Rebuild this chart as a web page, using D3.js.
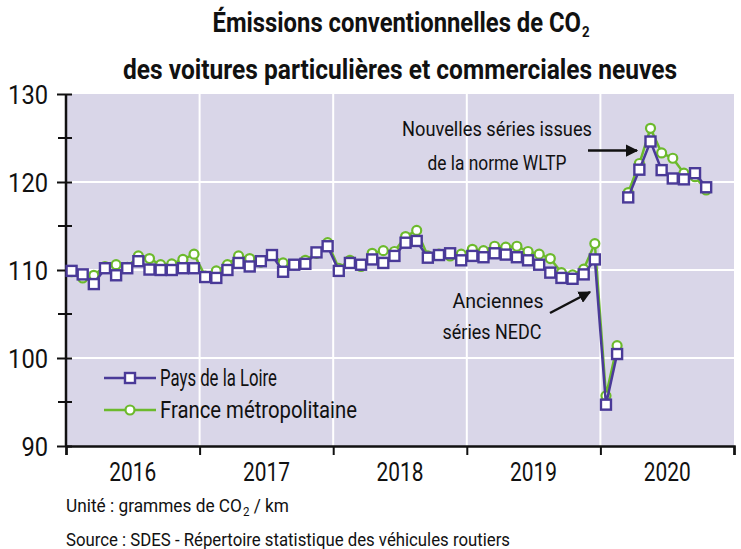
<!DOCTYPE html>
<html>
<head>
<meta charset="utf-8">
<script src="https://cdn.jsdelivr.net/npm/d3@7"></script>
<style>
  body { margin: 0; background: #fff; }
  text { font-family: Roboto, "Liberation Sans", sans-serif; fill: #111; }
</style>
</head>
<body>
<svg width="741" height="549"></svg>
<script>
// years on the x axis
let years = ['2016', '2017', '2018', '2019', '2020'];
// monthly values, jan 2016 -> oct 2020
let paysDeLaLoire = [
  109.9, 109.5, 108.4, 110.2, 109.4, 110.2, 111.0, 110.05, 110.0, 110.0, 110.2, 110.2,
  109.2, 109.1, 110.0, 110.8, 110.4, 111.0, 111.7, 109.8, 110.6, 110.7, 112.0, 112.7,
  109.9, 110.8, 110.6, 111.2, 110.8, 111.6, 113.1, 113.3, 111.4, 111.7, 111.9, 111.1,
  111.6, 111.45, 111.9, 111.75, 111.45, 111.1, 110.6, 109.7, 109.1, 109.0, 109.5, 111.2,
  94.7, 100.45, 118.25, 121.4, 124.6, 121.35, 120.4, 120.3, 121.0, 119.4
];
let franceMetro = [
  109.8, 109.1, 109.4, 110.4, 110.6, 110.3, 111.6, 111.3, 110.6, 110.7, 111.2, 111.8,
  109.3, 109.9, 110.6, 111.6, 111.3, 110.9, 111.7, 110.8, 110.6, 111.1, 111.9, 113.1,
  110.2, 111.1, 110.4, 111.9, 112.2, 112.1, 113.8, 114.5, 111.6, 111.8, 111.6, 111.8,
  112.35, 112.2, 112.7, 112.6, 112.7, 112.1, 111.8, 111.3, 109.7, 109.45, 110.1, 113.0,
  95.7, 101.4, 118.8, 122.1, 126.1, 123.3, 122.7, 121.0, 120.6, 119.1
];
// first month of the new WLTP series (march 2020)
let wltpStart = 50;
let yTicks = [90, 100, 110, 120, 130];
let yMinorTicks = [95, 105, 115, 125];

let purple = '#4a3a98';
let green = '#6cba2c';

let margin = { top: 94, right: 7, bottom: 103, left: 66 };
let width = 741 - margin.left - margin.right;
let height = 549 - margin.top - margin.bottom;

let svg = d3.select('svg');
let g = svg.append('g')
           .attr('transform', 'translate(' + margin.left + ',' + margin.top + ')');

// the source font is a narrow one: squeeze text to its measured width
let squeeze = (sel, w) => sel.attr('textLength', w).attr('lengthAdjust', 'spacingAndGlyphs');

// scales: x in months from jan 2016
let xScale = d3.scaleLinear()
               .domain([0, years.length * 12])
               .range([0, width]);
let yScale = d3.scaleLinear()
               .domain([90, 130])
               .range([height, 0]);

// plot background
g.append('rect')
  .attr('width', width)
  .attr('height', height)
  .attr('fill', '#d9d6e8');

// white grid
g.selectAll('.hgrid')
  .data(yTicks.slice(1, -1))
  .enter()
  .append('line')
  .attr('x1', 0).attr('x2', width)
  .attr('y1', d => yScale(d)).attr('y2', d => yScale(d))
  .attr('stroke', '#fff').attr('stroke-width', 2);

g.selectAll('.vgrid')
  .data(d3.range(1, years.length))
  .enter()
  .append('line')
  .attr('x1', d => xScale(d * 12)).attr('x2', d => xScale(d * 12))
  .attr('y1', 0).attr('y2', height)
  .attr('stroke', '#fff').attr('stroke-width', 2);

// y axis
let yAxis = d3.axisLeft(yScale)
              .tickValues(yTicks)
              .tickSize(9)
              .tickFormat(d3.format('d'));
let yAxisG = g.append('g').call(yAxis);
yAxisG.select('.domain').remove();
yAxisG.selectAll('.tick line').attr('x2', -9).attr('x1', 6).attr('stroke', '#111').attr('stroke-width', 2);
yAxisG.selectAll('.tick text')
  .style('font-size', '26px')
  .attr('fill', '#111')
  .attr('dy', '0.36em')
  .attr('x', -18)
  .attr('textLength', d => String(d).length * 13.3)
  .attr('lengthAdjust', 'spacingAndGlyphs');

g.selectAll('.minor')
  .data(yMinorTicks)
  .enter()
  .append('line')
  .attr('x1', -8).attr('x2', 6)
  .attr('y1', d => yScale(d)).attr('y2', d => yScale(d))
  .attr('stroke', '#111').attr('stroke-width', 2);

g.append('line')
  .attr('x1', 0).attr('x2', 0).attr('y1', 0).attr('y2', height)
  .attr('stroke', '#111').attr('stroke-width', 2.5);

// x axis
let xAxis = d3.axisBottom(xScale)
              .tickValues(d3.range(0, years.length * 12 + 1, 12))
              .tickSize(9)
              .tickFormat('');
let xAxisG = g.append('g')
              .attr('transform', 'translate(0,' + height + ')')
              .call(xAxis);
xAxisG.select('.domain').attr('stroke', '#111').attr('stroke-width', 2.5);
xAxisG.selectAll('.tick line').attr('stroke', '#111').attr('stroke-width', 2);

g.selectAll('.year')
  .data(years)
  .enter()
  .append('text')
  .attr('x', (d, i) => xScale(i * 12 + 6))
  .attr('y', height + 35)
  .attr('text-anchor', 'middle')
  .style('font-size', '26px')
  .attr('textLength', 47)
  .attr('lengthAdjust', 'spacingAndGlyphs')
  .text(d => d);

// lines, split where the series changes
let line = d3.line()
             .x(d => xScale(d.i + 0.5))
             .y(d => yScale(d.v));

let drawSeries = (values, color, marker) => {
  let pts = values.map((v, i) => ({ i: i, v: v }));
  [pts.slice(0, wltpStart), pts.slice(wltpStart)].forEach(seg => {
    g.append('path')
      .datum(seg)
      .attr('d', line)
      .attr('fill', 'none')
      .attr('stroke', color)
      .attr('stroke-width', 2.5);
  });
  let marks = g.append('g');
  if (marker == 'circle') {
    marks.selectAll('circle')
      .data(pts)
      .enter()
      .append('circle')
      .attr('cx', d => xScale(d.i + 0.5))
      .attr('cy', d => yScale(d.v))
      .attr('r', 4.5)
      .attr('fill', '#fff')
      .attr('stroke', color)
      .attr('stroke-width', 2.2);
  } else {
    marks.selectAll('rect')
      .data(pts)
      .enter()
      .append('rect')
      .attr('x', d => xScale(d.i + 0.5) - 5)
      .attr('y', d => yScale(d.v) - 5)
      .attr('width', 10)
      .attr('height', 10)
      .attr('fill', '#fff')
      .attr('stroke', color)
      .attr('stroke-width', 2.4);
  }
};

drawSeries(franceMetro, green, 'circle');
drawSeries(paysDeLaLoire, purple, 'square');

// legend
let legend = svg.append('g');
let legendItems = [
  { name: 'Pays de la Loire', color: purple, marker: 'square', y: 378, w: 117 },
  { name: 'France métropolitaine', color: green, marker: 'circle', y: 410, w: 197 }
];
legendItems.forEach(d => {
  legend.append('line')
    .attr('x1', 104).attr('x2', 156)
    .attr('y1', d.y).attr('y2', d.y)
    .attr('stroke', d.color).attr('stroke-width', 2.5);
  if (d.marker == 'square') {
    legend.append('rect')
      .attr('x', 125).attr('y', d.y - 5)
      .attr('width', 10).attr('height', 10)
      .attr('fill', '#fff').attr('stroke', d.color).attr('stroke-width', 2.4);
  } else {
    legend.append('circle')
      .attr('cx', 130).attr('cy', d.y).attr('r', 4.5)
      .attr('fill', '#fff').attr('stroke', d.color).attr('stroke-width', 2.2);
  }
  legend.append('text')
    .attr('x', 160).attr('y', d.y + 8)
    .style('font-size', '24px')
    .call(squeeze, d.w)
    .text(d.name);
});

// annotations
let annot = svg.append('g').style('font-size', '21px');
annot.append('text').attr('x', 497).attr('y', 136).attr('text-anchor', 'middle').call(squeeze, 190).text('Nouvelles séries issues');
annot.append('text').attr('x', 497).attr('y', 170).attr('text-anchor', 'middle').call(squeeze, 139).text('de la norme WLTP');
annot.append('text').attr('x', 498).attr('y', 308).attr('text-anchor', 'middle').call(squeeze, 91).text('Anciennes');
annot.append('text').attr('x', 492).attr('y', 339).attr('text-anchor', 'middle').call(squeeze, 99).text('séries NEDC');

svg.append('defs').append('marker')
  .attr('id', 'arrow')
  .attr('viewBox', '0 0 10 10')
  .attr('refX', 9).attr('refY', 5)
  .attr('markerWidth', 5).attr('markerHeight', 5)
  .attr('orient', 'auto')
  .append('path')
  .attr('d', 'M0,0 L10,5 L0,10 z')
  .attr('fill', '#111');

svg.append('line')
  .attr('x1', 588).attr('y1', 150.5).attr('x2', 637).attr('y2', 150.5)
  .attr('stroke', '#111').attr('stroke-width', 2.5)
  .attr('marker-end', 'url(#arrow)');
svg.append('line')
  .attr('x1', 550).attr('y1', 313).attr('x2', 590).attr('y2', 292)
  .attr('stroke', '#111').attr('stroke-width', 2.5)
  .attr('marker-end', 'url(#arrow)');

// title
let title = svg.append('g').style('font-size', '27px').style('font-weight', 'bold');
let t1 = title.append('text').attr('x', 401).attr('y', 32).attr('text-anchor', 'middle').call(squeeze, 377);
t1.append('tspan').text('Émissions conventionnelles de CO');
t1.append('tspan').attr('dx', 1).attr('dy', 5).style('font-size', '15px').text('2');
title.append('text').attr('x', 400).attr('y', 79).attr('text-anchor', 'middle').call(squeeze, 554)
  .text('des voitures particulières et commerciales neuves');

// footnotes
let f1 = svg.append('text').attr('x', 66).attr('y', 512).style('font-size', '18px').call(squeeze, 223);
f1.append('tspan').text('Unité : grammes de CO');
f1.append('tspan').attr('dx', 1).attr('dy', 4).style('font-size', '12px').text('2');
f1.append('tspan').attr('dy', -4).text(' / km');
svg.append('text').attr('x', 66).attr('y', 546).style('font-size', '18px').call(squeeze, 444)
  .text('Source : SDES - Répertoire statistique des véhicules routiers');
</script>
</body>
</html>
